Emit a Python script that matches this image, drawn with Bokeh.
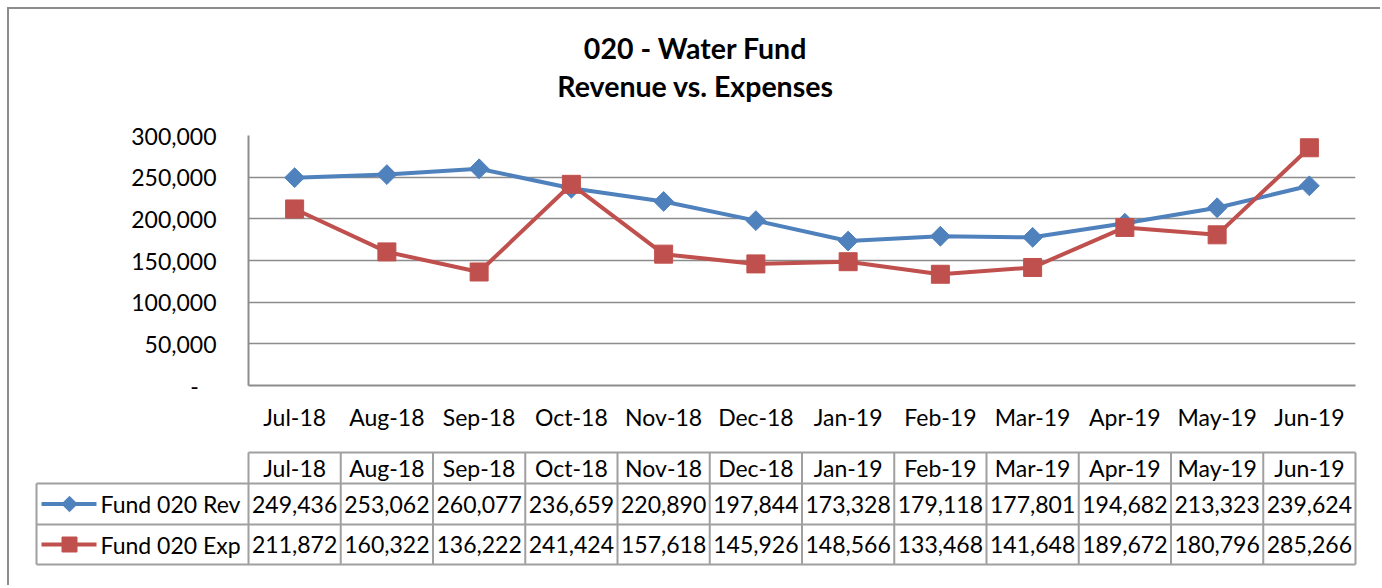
import math
from bokeh.plotting import figure
from bokeh.layouts import column
from bokeh.models import FactorRange, Range1d, FixedTicker, CustomJSTickFormatter
from bokeh.core.properties import value
from bokeh.embed import file_html
from bokeh.resources import INLINE

# ---------------- data ----------------
months = ["Jul-18", "Aug-18", "Sep-18", "Oct-18", "Nov-18", "Dec-18",
          "Jan-19", "Feb-19", "Mar-19", "Apr-19", "May-19", "Jun-19"]
rev = [249436, 253062, 260077, 236659, 220890, 197844,
       173328, 179118, 177801, 194682, 213323, 239624]
exp = [211872, 160322, 136222, 241424, 157618, 145926,
       148566, 133468, 141648, 189672, 180796, 285266]
series_names = ["Fund 020 Rev", "Fund 020 Exp"]
y_ticks = [0, 50000, 100000, 150000, 200000, 250000, 300000]
title_lines = ["020 - Water Fund", "Revenue vs. Expenses"]

# ---------------- style ----------------
FONT = "Lato"
BLUE = "#4f81bd"
RED = "#c0504d"
GRID = "#8c8c8c"
CELL = "#a0a0a0"
FS = "23px"
W = 1371

# ---------------- header (title) ----------------
h = figure(width=W, height=100, x_range=Range1d(0, 1), y_range=Range1d(100, 0),
           output_backend="svg", toolbar_location=None,
           x_axis_location=None, y_axis_location=None, frame_align=False,
           min_border_left=1, min_border_right=0, min_border_top=0, min_border_bottom=0)
h.outline_line_color = None
h.grid.visible = False
h.text(x=[0.5, 0.5], y=[38, 76], text=title_lines, text_align="center",
       text_baseline="middle", text_font=value(FONT), text_font_style="bold",
       text_font_size="28.5px", text_color="black")

# ---------------- chart ----------------
p = figure(width=W, height=336, x_range=FactorRange(*months), y_range=Range1d(0, 300000),
           output_backend="svg", toolbar_location=None, frame_align=False,
           min_border_left=239, min_border_right=25, min_border_top=26, min_border_bottom=60)
p.outline_line_color = None
p.xgrid.grid_line_color = None
p.ygrid.grid_line_color = GRID
p.ygrid.grid_line_width = 1.5
p.yaxis.ticker = FixedTicker(ticks=y_ticks)
p.yaxis.formatter = CustomJSTickFormatter(
    code='return tick == 0 ? "-\\u00a0\\u00a0\\u00a0" : tick.toLocaleString("en-US");')
for ax in p.axis:
    ax.axis_line_color = GRID
    ax.axis_line_width = 2
    ax.major_tick_line_color = None
    ax.minor_tick_line_color = None
    ax.major_label_text_font = FONT
    ax.major_label_text_font_size = FS
    ax.major_label_text_color = "black"
p.yaxis.major_label_standoff = 26
p.xaxis.major_label_standoff = 11

p.line(x=months, y=rev, line_color=BLUE, line_width=4)
p.scatter(x=months, y=rev, marker="square", angle=math.pi / 4, size=14,
          fill_color=BLUE, line_color=BLUE)
p.line(x=months, y=exp, line_color=RED, line_width=4)
p.scatter(x=months, y=exp, marker="square", size=18, fill_color=RED, line_color=RED)

# ---------------- data table ----------------
COLW = 1107 / 12.0
LEG = -212 / COLW
t = figure(width=W, height=140, x_range=Range1d(-214 / COLW, 1110 / COLW),
           y_range=Range1d(114, -2), output_backend="svg", toolbar_location=None,
           x_axis_location=None, y_axis_location=None, frame_align=False,
           min_border_left=25, min_border_right=22, min_border_top=5, min_border_bottom=19)
t.outline_line_color = None
t.grid.visible = False

row_edges = [0, 31, 72, 112]
n = len(months)
vx = list(range(n + 1))
t.segment(x0=vx, y0=[row_edges[0]] * len(vx), x1=vx, y1=[row_edges[-1]] * len(vx),
          line_color=CELL, line_width=2)
t.segment(x0=[LEG], y0=[row_edges[1]], x1=[LEG], y1=[row_edges[-1]], line_color=CELL, line_width=2)
t.segment(x0=[0, LEG, LEG, LEG], y0=row_edges, x1=[n] * 4, y1=row_edges,
          line_color=CELL, line_width=2)

centers = [(row_edges[k] + row_edges[k + 1]) / 2 for k in range(3)]
xc = [i + 0.5 for i in range(n)]
t.text(x=xc, y=[centers[0]] * n, text=months, text_align="center", text_baseline="middle",
       text_font=value(FONT), text_font_size=FS, text_color="black")
for vals, cy in zip([rev, exp], centers[1:]):
    t.text(x=xc, y=[cy] * n, text=[f"{v:,}" for v in vals], text_align="center",
           text_baseline="middle", text_font=value(FONT), text_font_size=FS, text_color="black")

kx0, kx1, km, tx = LEG + 5 / COLW, LEG + 60 / COLW, LEG + 33 / COLW, LEG + 64 / COLW
for name, col, cy, ang, sz in [(series_names[0], BLUE, centers[1], math.pi / 4, 11),
                               (series_names[1], RED, centers[2], 0, 15)]:
    t.segment(x0=[kx0], y0=[cy], x1=[kx1], y1=[cy], line_color=col, line_width=4)
    t.scatter(x=[km], y=[cy], marker="square", angle=ang, size=sz, fill_color=col, line_color=col)
    t.text(x=[tx], y=[cy], text=[name], text_align="left", text_baseline="middle",
           text_font=value(FONT), text_font_size=FS, text_color="black")

layout = column(h, p, t, spacing=0, margin=(7, 0, 0, 7),
                styles={"border-top": "2px solid #8c8c8c", "border-left": "2px solid #8c8c8c"})

open("out.html", "w").write(file_html(layout, INLINE))
